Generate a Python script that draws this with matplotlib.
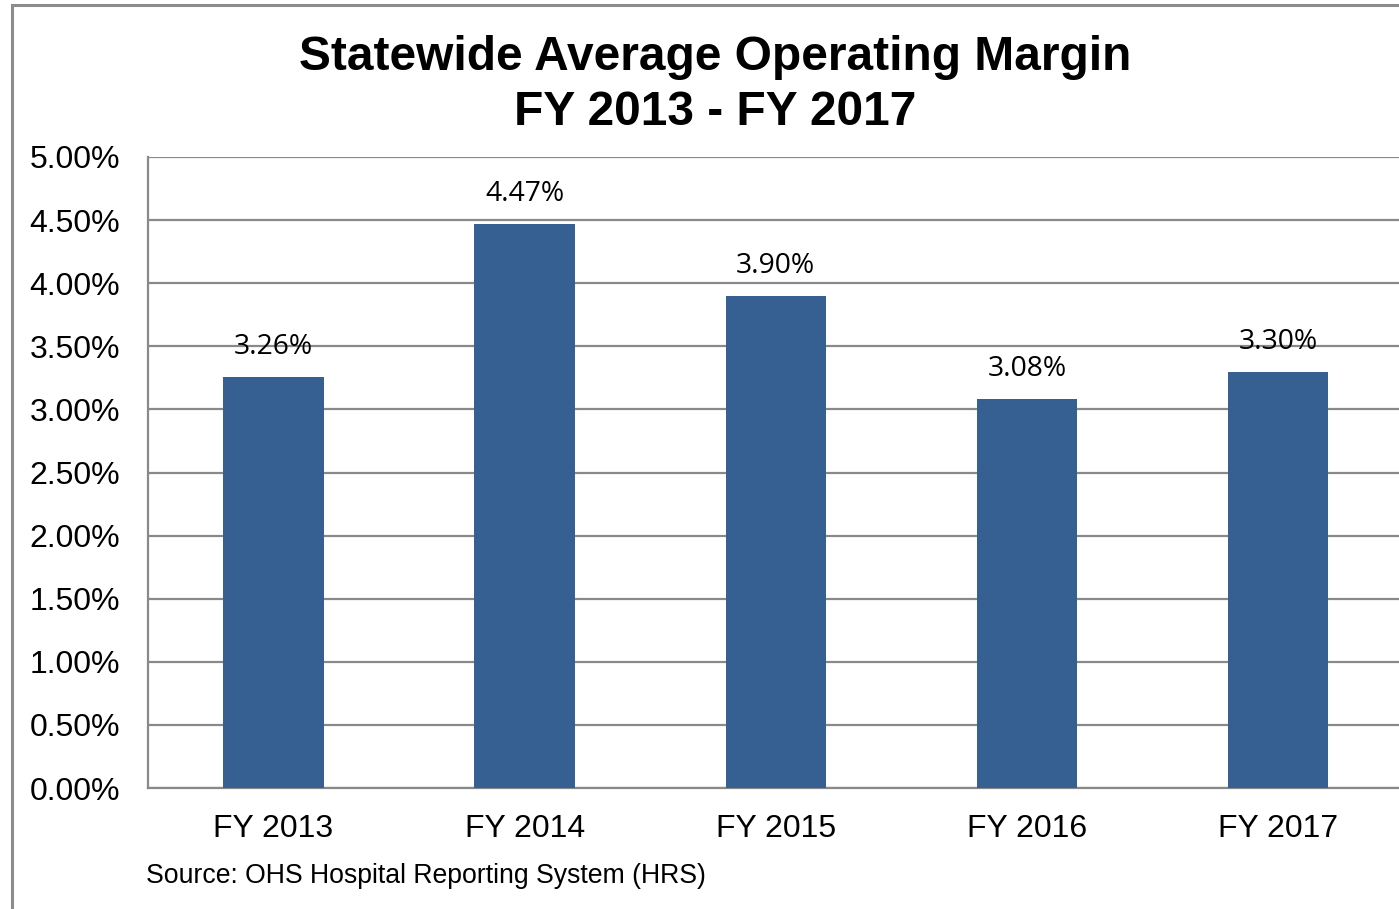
import matplotlib
matplotlib.use("Agg")
import matplotlib.pyplot as plt
from matplotlib.patches import Rectangle
from matplotlib.ticker import FuncFormatter

categories = ["FY 2013", "FY 2014", "FY 2015", "FY 2016", "FY 2017"]
values = [3.26, 4.47, 3.90, 3.08, 3.30]
value_labels = ["3.26%", "4.47%", "3.90%", "3.08%", "3.30%"]
yticks = [0, 0.5, 1.0, 1.5, 2.0, 2.5, 3.0, 3.5, 4.0, 4.5, 5.0]

W, H = 1399, 909
dpi = 100
fig = plt.figure(figsize=(W / dpi, H / dpi), dpi=dpi)
fig.patch.set_facecolor("white")

# figure border (cropped on right and bottom)
fig.patches.append(Rectangle((11.5 / W, -0.05), 1.2, (H - 4.5) / H + 0.05,
                             transform=fig.transFigure, fill=False,
                             edgecolor="#8c8c8c", linewidth=2.2, zorder=0))

left, right, top, bottom = 148, 1403.5, 157, 788
ax = fig.add_axes([left / W, (H - bottom) / H, (right - left) / W, (bottom - top) / H])

x = list(range(len(categories)))
ax.bar(x, values, width=0.4, color="#376092", zorder=3)
ax.set_xlim(-0.5, len(categories) - 0.5)
ax.set_ylim(0, 5.0)
ax.set_yticks(yticks)
ax.yaxis.set_major_formatter(FuncFormatter(lambda v, p: f"{v:.2f}%"))
ax.set_xticks(x)
ax.set_xticklabels(categories)
ax.grid(axis="y", color="#898989", linewidth=1.6, zorder=0)
ax.set_axisbelow(True)

for s in ["top", "right"]:
    ax.spines[s].set_visible(False)
for s in ["left", "bottom"]:
    ax.spines[s].set_color("#898989")
    ax.spines[s].set_linewidth(1.6)

ax.tick_params(axis="both", length=0)
ax.tick_params(axis="y", pad=20)
ax.tick_params(axis="x", pad=19)
for lab in ax.get_yticklabels() + ax.get_xticklabels():
    lab.set_fontfamily("Liberation Sans")
    lab.set_fontsize(23)
    lab.set_color("black")

for xi, v, t in zip(x, values, value_labels):
    ax.annotate(t, (xi, v), xytext=(0, 30), textcoords="offset pixels",
                ha="center", va="center", fontfamily="Open Sans",
                fontsize=20.3, color="black", zorder=4)

fig.text(715 / W, 1 - 85 / H, "Statewide Average Operating Margin\nFY 2013 - FY 2017",
         ha="center", va="center", fontfamily="Liberation Sans",
         fontweight="bold", fontsize=34.5, linespacing=1.27)

fig.text(146 / W, 1 - 876 / H, "Source: OHS Hospital Reporting System (HRS)",
         ha="left", va="center", fontfamily="Liberation Sans", fontsize=19.2)

fig.savefig("out.png", dpi=dpi)
